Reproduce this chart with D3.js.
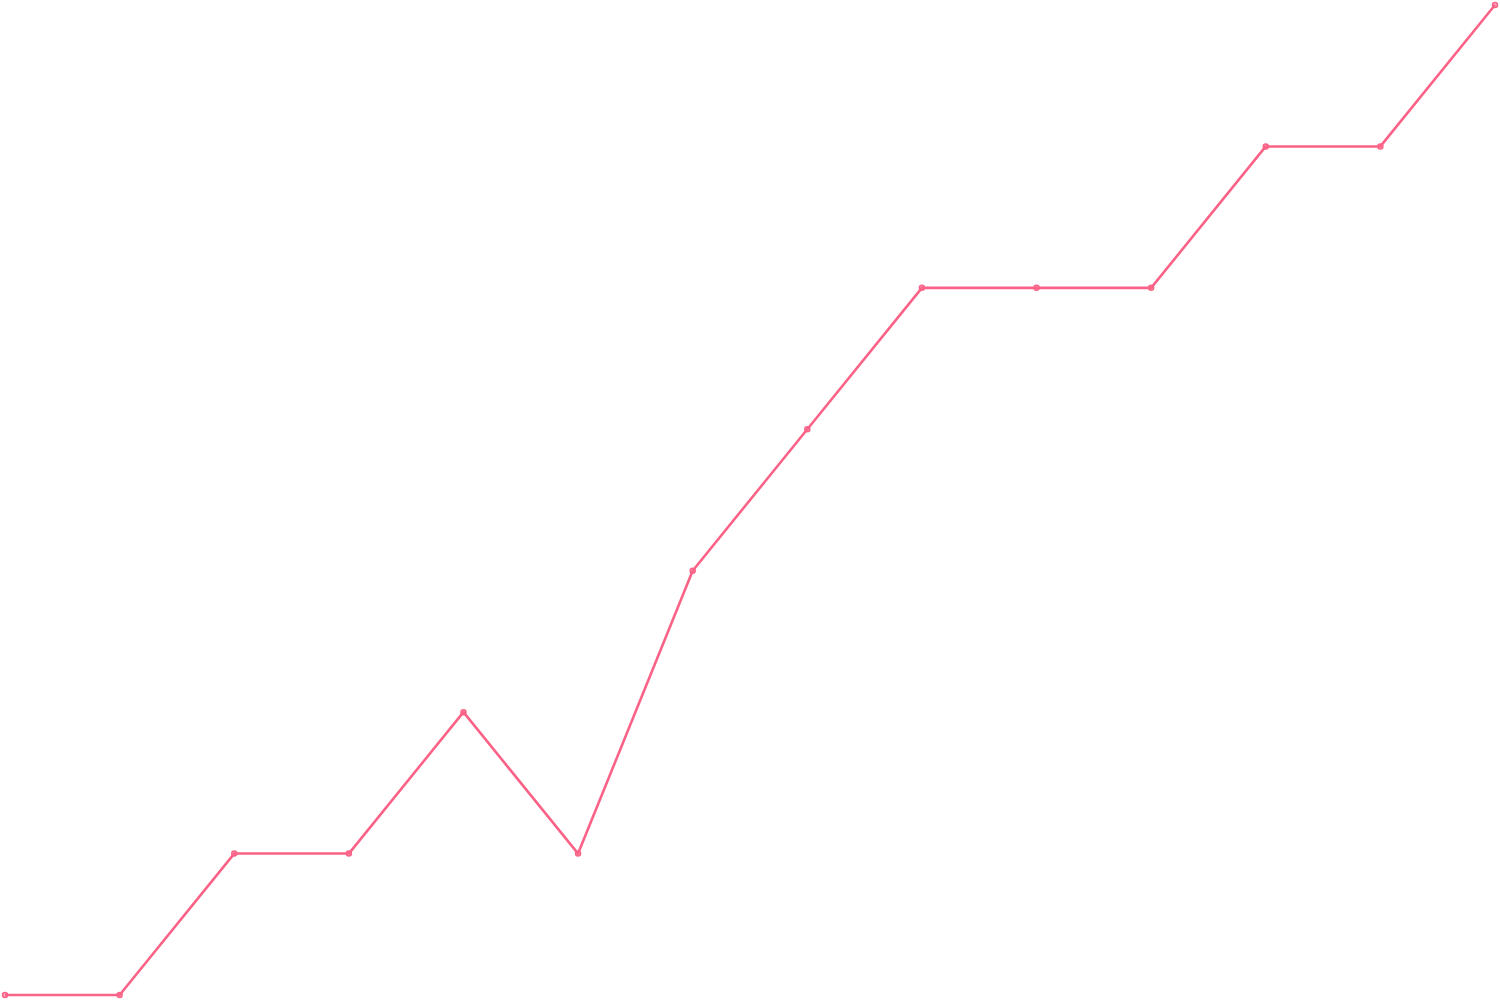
<!DOCTYPE html>
<html><head><meta charset="utf-8">
<script src="https://cdn.jsdelivr.net/npm/d3@7"></script>
<style>html,body{margin:0;padding:0;background:#fff;}svg{display:block;}</style>
</head><body>
<svg id="chart" width="1500" height="1000"></svg>
<script>
const labels = ["1","2","3","4","5","6","7","8","9","10","11","12","13","14"];
const values = [0,0,1,1,2,1,3,4,5,5,5,6,6,7];

const W = 1500, H = 1000, pad = 5;
const svg = d3.select("#chart");
const x = d3.scalePoint().domain(labels).range([pad, W - pad]);
const y = d3.scaleLinear().domain([0, 7]).range([H - pad, pad]);

const line = d3.line().x((d,i)=>x(labels[i])).y(d=>y(d));
svg.append("path").datum(values)
  .attr("d", line)
  .attr("fill","none")
  .attr("stroke","rgb(250,99,135)")
  .attr("stroke-width",2.6)
  .attr("stroke-linejoin","round");

svg.selectAll("circle").data(values).join("circle")
  .attr("cx",(d,i)=>x(labels[i]))
  .attr("cy",d=>y(d))
  .attr("r",2.5)
  .attr("fill","rgba(255,99,132,0.5)")
  .attr("stroke","rgb(250,99,135)")
  .attr("stroke-width",1.5);
</script>
</body></html>
